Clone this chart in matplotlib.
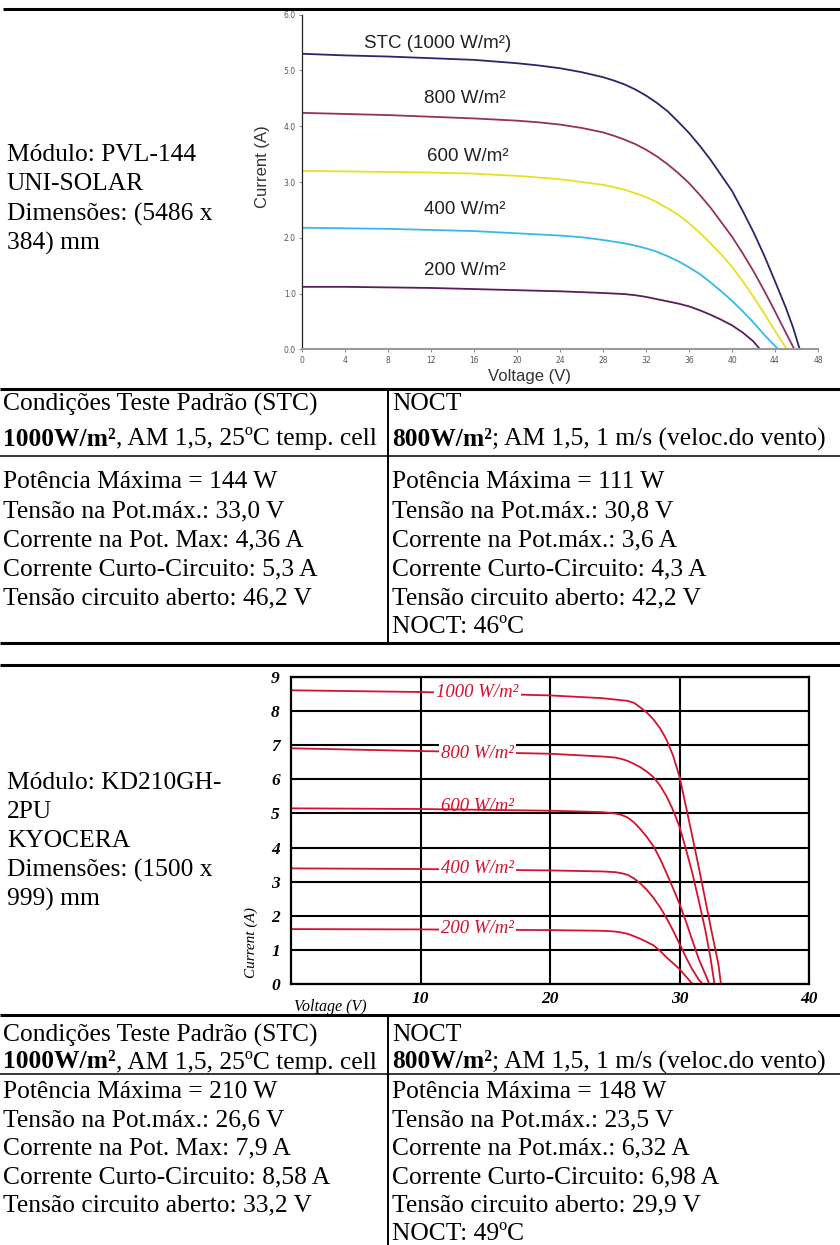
import matplotlib
matplotlib.use("Agg")
import matplotlib.pyplot as plt

# ---- chart 1: PVL-144 I-V curves (voltage V, current A) ----
uni_labels = ["STC (1000 W/m²)", "800 W/m²", "600 W/m²", "400 W/m²", "200 W/m²"]
uni_colors = ["#27276f", "#95305f", "#e8e020", "#35b9ec", "#5a1d5c"]
uni_v = [
    [0, 4, 8, 12, 16, 20, 22, 24, 26, 28, 29, 30, 31, 32, 33, 34, 35, 36, 37, 38, 39, 40, 41, 42, 43, 44, 45, 45.7, 46.3],
    [0, 4, 8, 12, 16, 20, 22, 24, 26, 28, 29, 30, 31, 32, 33, 34, 35, 36, 37, 38, 39, 40, 41, 42, 43, 44, 45, 45.8],
    [0, 4, 8, 12, 16, 20, 22, 24, 26, 28, 29, 30, 31, 32, 33, 34, 35, 36, 37, 38, 39, 40, 41, 42, 43, 44, 45.1],
    [0, 4, 8, 12, 16, 20, 22, 24, 26, 28, 29, 30, 31, 32, 33, 34, 35, 36, 37, 38, 39, 40, 41, 42, 43, 44.3],
    [0, 4, 8, 12, 16, 20, 24, 28, 30, 31, 32, 33, 34, 35, 36, 37, 38, 39, 40, 41, 42, 42.6],
]
uni_i = [
    [5.30, 5.27, 5.25, 5.22, 5.19, 5.13, 5.09, 5.04, 4.97, 4.88, 4.82, 4.75, 4.66, 4.55, 4.42, 4.27, 4.08, 3.88,
     3.65, 3.40, 3.12, 2.84, 2.48, 2.10, 1.68, 1.22, 0.75, 0.38, 0.0],
    [4.24, 4.22, 4.20, 4.17, 4.14, 4.10, 4.07, 4.03, 3.97, 3.89, 3.83, 3.76, 3.68, 3.58, 3.46, 3.32, 3.16, 2.98,
     2.77, 2.54, 2.28, 2.02, 1.72, 1.40, 1.05, 0.68, 0.30, 0.0],
    [3.20, 3.19, 3.18, 3.17, 3.15, 3.11, 3.08, 3.05, 3.00, 2.95, 2.91, 2.86, 2.80, 2.73, 2.64, 2.53, 2.41, 2.26,
     2.09, 1.90, 1.70, 1.48, 1.22, 0.94, 0.64, 0.33, 0.0],
    [2.18, 2.17, 2.16, 2.14, 2.12, 2.08, 2.06, 2.04, 2.01, 1.96, 1.93, 1.90, 1.86, 1.81, 1.75, 1.67, 1.58, 1.47,
     1.35, 1.20, 1.04, 0.87, 0.68, 0.48, 0.26, 0.0],
    [1.12, 1.12, 1.11, 1.10, 1.08, 1.06, 1.04, 1.01, 0.99, 0.97, 0.94, 0.90, 0.86, 0.82, 0.77, 0.70, 0.62, 0.53,
     0.43, 0.30, 0.14, 0.0],
]
uni_label_xy = [(12.65, 5.49), (15.1, 4.5), (15.4, 3.45), (15.1, 2.5), (15.1, 1.42)]
uni_xticks = [0, 4, 8, 12, 16, 20, 24, 28, 32, 36, 40, 44, 48]
uni_yticks = [0.0, 1.0, 2.0, 3.0, 4.0, 5.0, 6.0]

# ---- chart 2: KD210GH-2PU I-V curves ----
kyo_labels = ["1000 W/m²", "800 W/m²", "600 W/m²", "400 W/m²", "200 W/m²"]
kyo_v = [
    [0, 10, 20, 24, 26, 26.5, 27, 27.5, 28, 28.5, 29, 29.5, 30, 30.5, 31, 31.5, 32, 32.5, 33, 33.2],
    [0, 10, 20, 24, 25, 25.5, 26, 26.5, 27, 27.5, 28, 28.5, 29, 29.5, 30, 30.5, 31, 31.5, 32, 32.4, 32.7],
    [0, 10, 20, 24, 25, 25.5, 26, 26.5, 27, 27.5, 28, 28.5, 29, 29.5, 30, 30.5, 31, 31.5, 32, 32.3],
    [0, 10, 20, 24, 25, 25.5, 26, 26.5, 27, 27.5, 28, 28.5, 29, 29.5, 30, 30.5, 31, 31.5, 31.8],
    [0, 10, 20, 24, 25, 25.5, 26, 26.5, 27, 27.5, 28, 28.5, 29, 29.5, 30, 30.5, 31.0],
]
kyo_i = [
    [8.61, 8.56, 8.46, 8.38, 8.30, 8.24, 8.10, 7.95, 7.75, 7.50, 7.16, 6.70, 6.08, 5.20, 4.31, 3.40, 2.45, 1.50,
     0.59, 0.0],
    [6.91, 6.83, 6.75, 6.67, 6.64, 6.60, 6.54, 6.45, 6.35, 6.22, 6.06, 5.82, 5.50, 5.10, 4.61, 3.95, 3.24, 2.42,
     1.57, 0.75, 0.0],
    [5.15, 5.13, 5.08, 5.04, 5.00, 4.96, 4.88, 4.73, 4.53, 4.30, 4.03, 3.67, 3.25, 2.81, 2.35, 1.83, 1.27, 0.72,
     0.28, 0.0],
    [3.39, 3.37, 3.33, 3.30, 3.28, 3.25, 3.20, 3.09, 2.94, 2.75, 2.52, 2.25, 1.93, 1.57, 1.18, 0.78, 0.42, 0.12, 0.0],
    [1.61, 1.60, 1.58, 1.56, 1.54, 1.51, 1.47, 1.40, 1.32, 1.23, 1.13, 0.97, 0.78, 0.61, 0.44, 0.22, 0.0],
]
kyo_label_xy = [(14.4, 8.56), (14.4, 6.76), (14.4, 5.2), (14.4, 3.38), (14.4, 1.62)]
kyo_xticks = [10, 20, 30, 40]
kyo_yticks = [0, 1, 2, 3, 4, 5, 6, 7, 8, 9]

# ---- text blocks ----
uni_module = ["Módulo: PVL-144", "UNI-SOLAR", "Dimensões: (5486 x", "384) mm"]
kyo_module = ["Módulo: KD210GH-", "2PU", "KYOCERA", "Dimensões: (1500 x", "999) mm"]
stc_head = "Condições Teste Padrão (STC)"
noct_head = "NOCT"
stc_cond = [("1000W/m²", True), (", AM 1,5, 25ºC temp. cell", False)]
noct_cond = [("800W/m²", True), ("; AM 1,5, 1 m/s (veloc.do vento)", False)]
uni_stc = ["Potência Máxima = 144 W", "Tensão na Pot.máx.: 33,0 V", "Corrente na Pot. Max: 4,36 A",
           "Corrente Curto-Circuito: 5,3 A", "Tensão circuito aberto: 46,2 V"]
uni_noct = ["Potência Máxima = 111 W", "Tensão na Pot.máx.: 30,8 V", "Corrente na Pot.máx.: 3,6 A",
            "Corrente Curto-Circuito: 4,3 A", "Tensão circuito aberto: 42,2 V", "NOCT: 46ºC"]
kyo_stc = ["Potência Máxima = 210 W", "Tensão na Pot.máx.: 26,6 V", "Corrente na Pot. Max: 7,9 A",
           "Corrente Curto-Circuito: 8,58 A", "Tensão circuito aberto: 33,2 V"]
kyo_noct = ["Potência Máxima = 148 W", "Tensão na Pot.máx.: 23,5 V", "Corrente na Pot.máx.: 6,32 A",
            "Corrente Curto-Circuito: 6,98 A", "Tensão circuito aberto: 29,9 V", "NOCT: 49ºC"]

SERIF = "Liberation Serif"
SANS = "Liberation Sans"
FS = 18.4
W, H = 840, 1245

fig = plt.figure(figsize=(W / 100, H / 100), dpi=100)
page = fig.add_axes([0, 0, 1, 1])
page.set_xlim(0, W)
page.set_ylim(H, 0)
page.axis("off")
renderer = fig.canvas.get_renderer()


def box(x0, x1, ytop, ybot):
    return [x0 / W, 1 - ybot / H, (x1 - x0) / W, (ybot - ytop) / H]


def hline(y, x0=0, x1=W, lw=2.2):
    page.plot([x0, x1], [y, y], color="black", lw=lw, solid_capstyle="butt")


def vline(x, y0, y1, lw=1.4):
    page.plot([x, x], [y0, y1], color="black", lw=lw, solid_capstyle="butt")


def rich(x, y, parts):
    # draw bold / normal runs one after another
    for s, bold in parts:
        t = page.text(x, y, s, fontsize=FS, family=SERIF, va="center", ha="left",
                      weight="bold" if bold else "normal")
        bb = t.get_window_extent(renderer=renderer)
        x = page.transData.inverted().transform((bb.x1, bb.y0))[0]


def lines(x, y0, step, texts):
    for k, s in enumerate(texts):
        page.text(x, y0 + k * step, s, fontsize=FS, family=SERIF, va="center", ha="left")


# ---------------- section 1 ----------------
hline(9, 3)
lines(7, 155, 29.5, uni_module)

ax1 = fig.add_axes(box(302, 818, 14.7, 349.3))
for v, i, c in zip(uni_v, uni_i, uni_colors):
    ax1.plot(v, i, color=c, lw=1.3)
for (lx, ly), s in zip(uni_label_xy, uni_labels):
    ax1.text(lx, ly, s, fontsize=13.5, family=SANS, color="#222222", ha="center", va="center")
ax1.set_xlim(0, 48)
ax1.set_ylim(0, 6)
ax1.set_xticks(uni_xticks)
ax1.set_xticklabels([str(t) for t in uni_xticks])
ax1.set_yticks(uni_yticks)
ax1.set_yticklabels(["%.1f" % t for t in uni_yticks])
ax1.tick_params(labelsize=5.5, labelcolor="#555555", length=2.5, width=0.6, color="#777777", pad=2)
for side in ("top", "right"):
    ax1.spines[side].set_visible(False)
ax1.spines["left"].set_color("#222222")
ax1.spines["left"].set_linewidth(0.9)
ax1.spines["bottom"].set_color("#999999")
ax1.spines["bottom"].set_linewidth(1.5)
page.text(263, 167, "Current (A)", rotation=90, fontsize=12, family=SANS, color="#333333",
          ha="center", va="center")
page.text(530, 377, "Voltage (V)", fontsize=12, family=SANS, color="#333333", ha="center", va="center")

# table 1
hline(388.5)
vline(388, 388, 643)
page.text(3, 404, stc_head, fontsize=FS, family=SERIF, va="center")
page.text(392, 404, noct_head, fontsize=FS, family=SERIF, va="center")
rich(3, 439, stc_cond)
rich(392, 439, noct_cond)
hline(456, lw=1.1)
lines(3, 482, 29, uni_stc)
lines(392, 482, 29, uni_noct)
hline(643)

# ---------------- section 2 ----------------
hline(665)
lines(7, 783, 29, kyo_module)

ax2 = fig.add_axes(box(291, 809, 677, 984))
for v, i in zip(kyo_v, kyo_i):
    ax2.plot(v, i, color="#d4122c", lw=1.3, zorder=2)
for k, ((lx, ly), s) in enumerate(zip(kyo_label_xy, kyo_labels)):
    bb = None if k == 2 else dict(facecolor="white", edgecolor="none", pad=1.5)
    ax2.text(lx, ly, s, fontsize=13.5, family=SERIF, style="italic", color="#d4122c",
             ha="center", va="center", bbox=bb, zorder=3)
ax2.set_xlim(0, 40)
ax2.set_ylim(0, 9)
ax2.set_xticks(kyo_xticks)
ax2.set_xticklabels([str(t) for t in kyo_xticks])
ax2.set_yticks(kyo_yticks)
ax2.set_yticklabels([str(t) for t in kyo_yticks])
for lab in ax2.get_xticklabels() + ax2.get_yticklabels():
    lab.set_family(SERIF)
    lab.set_style("italic")
    lab.set_weight("bold")
    lab.set_fontsize(12.5)
ax2.tick_params(length=0, pad=5)
ax2.tick_params(axis="y", pad=8)
ax2.grid(True, color="black", lw=1.5)
ax2.set_axisbelow(True)
for sp in ax2.spines.values():
    sp.set_linewidth(1.6)
page.text(251, 943, "Current (A)", rotation=90, fontsize=11, family=SERIF, style="italic",
          ha="center", va="center")
page.text(330, 1007, "Voltage (V)", fontsize=11.5, family=SERIF, style="italic",
          ha="center", va="center")

# table 2
hline(1014.5)
vline(388, 1014, H)
page.text(3, 1035, stc_head, fontsize=FS, family=SERIF, va="center")
page.text(392, 1035, noct_head, fontsize=FS, family=SERIF, va="center")
rich(3, 1062, stc_cond)
rich(392, 1062, noct_cond)
hline(1074, lw=1.1)
lines(3, 1092, 28.4, kyo_stc)
lines(392, 1092, 28.4, kyo_noct)

fig.savefig("out.png", dpi=100, facecolor="white")
